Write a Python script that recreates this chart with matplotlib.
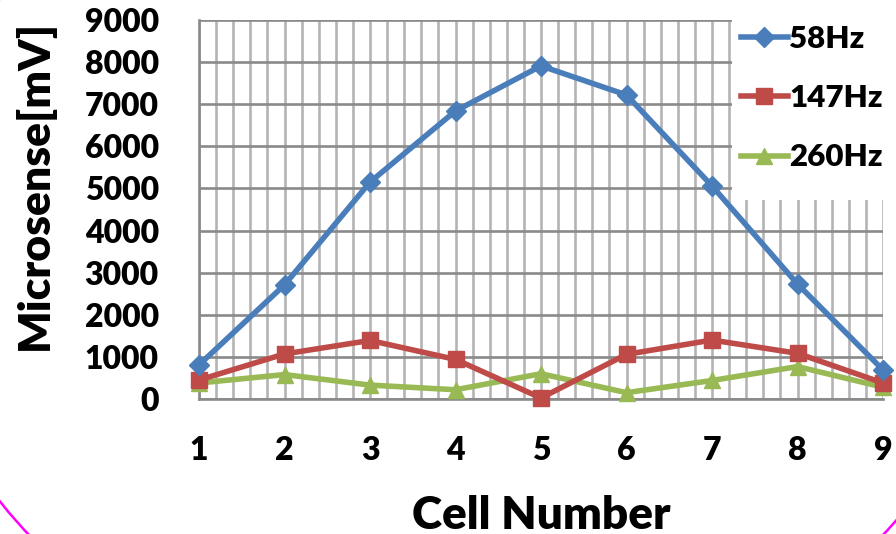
"""
Microsense output per cell at three drive frequencies.
"""

import numpy as np
import matplotlib
matplotlib.use("Agg")
import matplotlib.pyplot as plt
from matplotlib.patches import Ellipse, Rectangle

cells = [1, 2, 3, 4, 5, 6, 7, 8, 9]
hz58 = [810, 2710, 5150, 6840, 7910, 7220, 5060, 2730, 690]
hz147 = [450, 1070, 1390, 940, 25, 1060, 1400, 1085, 380]
hz260 = [380, 580, 330, 220, 600, 150, 440, 770, 280]
labels = ["58Hz", "147Hz", "260Hz"]

plt.rcParams["font.family"] = ["Lato", "DejaVu Sans"]
plt.rcParams["font.weight"] = "heavy"

fig = plt.figure(figsize=(8.96, 5.34), dpi=100)
ax = fig.add_axes([199 / 896, 135 / 534, 684 / 896, 379 / 534])

ax.plot(cells, hz58, color="#4A7EBB", lw=4, marker="D", ms=10,
        label=labels[0], zorder=5, clip_on=False)
ax.plot(cells, hz147, color="#BE4B48", lw=4, marker="s", ms=11,
        label=labels[1], zorder=4, clip_on=False)
ax.plot(cells, hz260, color="#98B954", lw=4, marker="^", ms=12,
        label=labels[2], zorder=3, clip_on=False)

ax.set_xlim(1, 9)
ax.set_ylim(0, 9000)
ax.set_xticks(cells)
ax.set_xticks(np.arange(1, 9.001, 0.2), minor=True)
ax.set_yticks(np.arange(0, 9001, 1000))
ax.tick_params(axis="both", which="both", length=0, labelsize=23)
ax.tick_params(axis="x", pad=27)
ax.tick_params(axis="y", pad=29)

ax.grid(True, axis="x", which="both", color="#b4b4b4", lw=1.9)
ax.grid(True, axis="y", which="major", color="#8a8a8a", lw=1.9)
ax.set_axisbelow(True)
for side in ["top", "right"]:
    ax.spines[side].set_visible(False)
for side in ["left", "bottom"]:
    ax.spines[side].set_color("#8a8a8a")
    ax.spines[side].set_linewidth(1.9)

ax.set_xlabel("Cell Number", fontsize=33, fontweight="heavy", labelpad=21)
fig.text(34 / 896, 1 - 185 / 534, "Microsense[mV]", rotation=90,
         fontsize=32, fontweight="heavy", ha="center", va="center")

# white block behind the legend, hiding the grid in the top-right corner
fig.patches.append(Rectangle((732 / 896, 1 - 200 / 534), 164 / 896, 200 / 534,
                             transform=fig.transFigure, facecolor="white",
                             edgecolor="none", zorder=6))
leg = fig.legend(loc="upper left", bbox_to_anchor=(716 / 896, 1.0),
                 frameon=False, fontsize=22.5, handlelength=1.5,
                 handletextpad=0.05, labelspacing=1.0, borderaxespad=0.4)
leg.set_zorder(7)

# magenta outline running round the slide corners
fig.patches.append(Ellipse((456 / 896, 1 - 250 / 534), 1093 / 896, 913 / 534,
                           transform=fig.transFigure, fill=False,
                           edgecolor="#ff00ff", lw=1.8, zorder=8))

fig.savefig("out.png", dpi=100)
